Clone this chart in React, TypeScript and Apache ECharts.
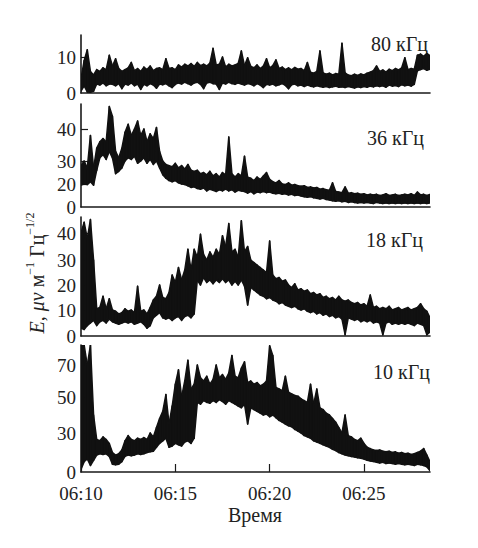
import React, { useEffect, useRef } from "react";
import * as echarts from "echarts";

// time step between samples: 10 s, expressed in minutes after 06:10
const STEP_MIN = 1 / 6;
const X_MAX_MIN = 18.5;

// envelope (max / min within each 10 s sample)
const hi80 = [4,9,12,6,5,6.5,6,7,6.5,10.5, 7.5,9.5,6.8,6,6.5,7,8.5,6.2,6.8,6, 7.2,6.5,7.5,6.2,6.8,7,6.5,9.5,6.8,7, 6.5,7.8,7.2,8,7.5,8.2,7.4,8.5,7.6,8, 7.5,8.3,12.4,7.8,8,10,7.2,8,7.5,7.8, 8.2,11.7,7.6,9.8,7.4,7,7.8,6.8,7.5,9.5, 7,7.6,9.2,6.8,7.2,6.5,7,6.4,7.1,6.6, 6.8,6.2,8.5,5.8,5.5,6,11.7,5.6,5.2,5.5, 5,5.4,5.2,13.8,5.6,5,4.8,5.2,4.9,5.3, 5,5.5,5.8,6.2,7.5,6,6.4,5.8,6.6,6.2, 6.8,6.4,7,9.8,6.5,6.8,6.6,10.5,10.8,10.2, 11,10.4];
const lo80 = [0.5,2,0.3,0.2,0.5,2.5,2.2,2.8,2,2.5, 2.4,2,2.6,1.2,2.5,2.2,2.8,2,2.5,1, 2.4,2,2.6,2.2,1.3,2.5,2.3,2.6,2,1.5, 2.4,2.8,2.5,3,2.6,2.2,2.8,3,2.4,1.2, 2.8,3,2.6,2.5,1,2.8,2.5,3,2.6,2.4, 2.8,2.5,2.2,2.6,2.4,2,2.6,2.2,1.5,2.4, 2.2,2.5,2,2.3,2.6,2.1,1.2,2.3,2.5,2, 2.2,1.8,2.2,1.9,1.7,2,1.8,1.6,1.8,1.5, 1.7,1.9,1.6,1.7,1.5,1.8,1.6,1.4,1.7,1.5, 1.8,1.6,1.9,1.7,2,1.8,2,1.6,2.2,1.9, 2.1,1.8,2.3,2,2.2,1.9,2.4,6.2,6.5,6.8, 6.3,6.6];

const hi36 = [28,30,27,38,27,34,36,37,36,47, 44,33,31,34,39,41.5,38,40,42.5,38, 40,36,38.5,37,40.5,33,30,28.5,28,27.5, 29,27,28,26.5,28.5,26,25.5,26,24.5,25, 24,25.5,23.5,24.5,23,25,24,37.5,24.5,23, 24.5,23.5,31.5,23,22.5,21.5,23,22,23.5,25, 22,21,20.5,21.5,20,19.5,20.5,19,19.5,18.5, 18,18.5,17,17.5,16.5,17,15.5,16,15,14.5, 20.5,13.5,13,12.5,17.5,12,12.5,11.5,12,11, 11.5,10.5,11,10.5,11,10,10.5,11.5,10,10.5, 11,10,10.5,11,10.5,11.5,10,13,10.5,11, 10,11];
const lo36 = [19,20,19.5,21,19,26,31,32,30.5,33, 31,24.5,25.5,27,30,31,30.5,31.5,29,30, 31,29,30.5,28.5,30,27,24,22.5,21.5,21, 21.5,20.5,20,19.5,18.5,17,17.5,16,15.5,16.5, 14,15.5,14.5,13.5,15,14,15.5,14,15,13, 14.5,14,13.5,12,13.5,11.5,13,12.5,13.5,12.5, 13,12,11.5,12,11,11.5,10.5,11,10,10.5, 9.5,9,8.5,9,8,7.5,7,7.5,6.5,6, 5.5,5,5.5,4.5,5,4,4.5,4,3.5,4, 3.5,4,3.5,3,4,3.5,3,3.5,3,3.5, 3,3.5,3,3.5,3,3.5,3,3.5,3,3.5, 3,3.5];

const hi18 = [40,44,38,45,30,10.5,11,15.5,10.5,14.5, 10,9.5,8.5,9,10.5,9.5,10,9,19.5,9.5, 10,8.5,11,14,15.5,20,15,14.5,17,24, 21,27,22,26,34,26,34,31,39.5,32, 30,33,31,34,32,39,35,43.5,33,34, 31,44.5,33,35,30,29,28,27,26,25, 37,24,22.5,23,21.5,22,20,19,20.5,18, 18.5,17.5,18,16.5,17,16,16.5,15,15.5,14.5, 15,14,15.5,14,13.5,14,13,12.5,13,12, 12.5,11.5,16,11,11.5,10.5,11,10.5,11.5,10, 10.5,11,10,10.5,11,10,10.5,11,12.5,10.5, 9.5,7];
const lo18 = [3,2.5,4,5,6,4,5.5,6,5,6.5, 5.5,5,4.5,5,5.5,5,5.5,4.5,5,5.5, 4.5,3,4,7,8,9,7,6.5,7,6, 7,7.5,6,7.5,8,7,8.5,22,20,23, 21,22,20.5,22,21,22.5,21,22,20,21.5, 20,22,19.5,12,19,18,17,16,15.5,14.5, 15,14,13.5,12.5,13,12,11.5,11,11.5,10.5, 10,10.5,9.5,9,9.5,8.5,9,8,8.5,7.5, 8,7,7.5,6.5,0.5,7,6.5,6,6.5,5.5, 6,5.5,6,5,5.5,5,0.5,5,5.5,4.5, 5,4.5,5,4.5,5,4.5,4,5,4.5,4, 0.5,1.5];

const hi10 = [90,90,70,90,40,25,24,27,25,22, 15,13,14,17,24,28,25,24,26,25, 26.5,25,30,27,33,38,42,51.5,35,45, 58,67,50,60,73,55,58,70,62,60, 63,58,61,70,62,64,61,65,76,63, 62,68,72,59,60,58,59,57,58,60, 82,76,56,55,54,63,53,52,51,50.5, 49,48,47,58,46,55,44,43,41,40, 38,36,33,30,40,28,27,25,24,26, 22,19,18,17,16.5,17,16,15.5,16,15, 15.5,14.5,15,14,14.5,13.5,14,15,16,18, 13,8];
const lo10 = [2,8,10,5,9,13,14,13.5,14,12, 6,5.5,6,8,12,13,12.5,13,14,13.5, 14,15,15.5,16,19,22,24,26,19,20, 22,21,20,23,24,22,26,47,46,48, 47,46.5,48,47,48.5,47.5,46,48,47,46, 45,44,46,35,44,43,42,41,40,40.5, 39,40,38.5,37,36,35,34,33.5,32,31, 30,28,27,26,24,23,22,21,20,19, 17.5,16.5,15,14,13,12.5,12,11.5,11,10.5, 10,9,8.5,8,7.5,7,7.5,6.5,7,6.5, 6,6.5,6,5.5,6,5.5,5,6,5.5,5, 4,1];

const panelLabels = ["80 кГц", "36 кГц", "18 кГц", "10 кГц"];
const yTickValues = [
  [0, 5, 10],
  [0, 20, 30, 40],
  [0, 10, 20, 30, 40],
  [0, 30, 50, 70],
];
const xTickMinutes = [0, 5, 10, 15];
const xTickLabels = ["06:10", "06:15", "06:20", "06:25"];
const xAxisTitle = "Время";

// ---- layout / scale configuration (not data) ----
const FONT = '"Liberation Serif", "DejaVu Serif", "Times New Roman", serif';
const GRID_LEFT = 81;
const GRID_RIGHT = 48;
const GRIDS = [
  { top: 35, height: 58 },
  { top: 104, height: 103 },
  { top: 217, height: 119 },
  { top: 345, height: 127 },
];
// printed (non-uniform) axis scales of the original figure: value -> height in px
const SCALES: number[][][] = [
  [[0, 0], [5, 18], [10, 36]],
  [[0, 0], [20, 23], [30, 46], [40, 78]],
  [[0, 0], [10, 26], [20, 51], [30, 76], [40, 103]],
  [[0, 0], [30, 39], [50, 75], [70, 107]],
];
const LABEL_POS = [
  { x: 428, y: 44 },
  { x: 424, y: 138 },
  { x: 423, y: 240 },
  { x: 430, y: 372 },
];
const INK = "#111";

function warp(v: number, table: number[][]): number {
  for (let k = 1; k < table.length; k++) {
    if (v <= table[k][0] || k === table.length - 1) {
      const [v0, p0] = table[k - 1];
      const [v1, p1] = table[k];
      return p0 + ((v - v0) * (p1 - p0)) / (v1 - v0);
    }
  }
  return v;
}

const SERIES = [
  [hi80, lo80],
  [hi36, lo36],
  [hi18, lo18],
  [hi10, lo10],
];

export default function App() {
  const ref = useRef<HTMLDivElement | null>(null);

  useEffect(() => {
    if (!ref.current) return;
    const chart = echarts.init(ref.current, null, { renderer: "svg" });

    const grid = GRIDS.map((g) => ({
      left: GRID_LEFT,
      right: GRID_RIGHT,
      top: g.top,
      height: g.height,
      containLabel: false,
    }));

    const axisLineStyle = { color: "#1a1a1a", width: 1.6 };

    const xAxis = GRIDS.map((_, k) => ({
      gridIndex: k,
      type: "value",
      min: 0,
      max: X_MAX_MIN,
      axisLine: { show: true, onZero: false, lineStyle: axisLineStyle },
      axisTick: {
        show: k === 3,
        inside: true,
        length: 8,
        customValues: xTickMinutes,
        lineStyle: { color: "#1a1a1a", width: 1.2 },
      },
      axisLabel: {
        show: k === 3,
        customValues: xTickMinutes,
        showMinLabel: true,
        showMaxLabel: true,
        formatter: (v: number) => {
          const idx = xTickMinutes.findIndex((t) => Math.abs(t - v) < 1e-6);
          return idx >= 0 ? xTickLabels[idx] : "";
        },
        fontFamily: FONT,
        fontSize: 19,
        color: "#222",
        margin: 12,
      },
      splitLine: { show: false },
    }));

    const yAxis = GRIDS.map((g, k) => {
      const ticks = yTickValues[k];
      const pos = ticks.map((t) => warp(t, SCALES[k]));
      return {
        gridIndex: k,
        type: "value",
        min: 0,
        max: g.height,
        axisLine: { show: true, onZero: false, lineStyle: axisLineStyle },
        axisTick: {
          show: true,
          inside: true,
          length: 7,
          customValues: pos.filter((p) => p > 0),
          lineStyle: { color: "#1a1a1a", width: 1.2 },
        },
        axisLabel: {
          show: true,
          customValues: pos,
          showMinLabel: true,
          showMaxLabel: true,
          formatter: (v: number) => {
            const idx = pos.findIndex((p) => Math.abs(p - v) < 1e-6);
            return idx >= 0 ? String(ticks[idx]) : "";
          },
          fontFamily: FONT,
          fontSize: 19,
          lineHeight: 14,
          color: "#222",
          margin: 5,
        },
        splitLine: { show: false },
      };
    });

    const series: any[] = SERIES.map(([hi, lo], k) => {
      const top = GRIDS[k].height;
      const rows = hi.map((h, i) => [
        i * STEP_MIN,
        Math.min(warp(h, SCALES[k]), top),
        Math.min(warp(lo[i], SCALES[k]), top),
      ]);
      return {
        type: "custom",
        xAxisIndex: k,
        yAxisIndex: k,
        data: rows,
        encode: { x: 0, y: [1, 2] },
        silent: true,
        clip: true,
        renderItem: (params: any, api: any) => {
          const i = params.dataIndex;
          if (i >= rows.length - 1) return null;
          const a = rows[i];
          const b = rows[i + 1];
          const p1 = api.coord([a[0], a[1]]);
          const p2 = api.coord([b[0], b[1]]);
          const p3 = api.coord([b[0], b[2]]);
          const p4 = api.coord([a[0], a[2]]);
          return {
            type: "polygon",
            shape: { points: [p1, p2, p3, p4] },
            style: { fill: INK, stroke: INK, lineWidth: 1.5, lineJoin: "round" },
          };
        },
      };
    });

    const graphic: any[] = panelLabels.map((t, k) => ({
      type: "text",
      x: LABEL_POS[k].x,
      y: LABEL_POS[k].y,
      style: {
        text: t,
        fontFamily: FONT,
        fontSize: 20,
        fill: "#222",
        align: "right",
        verticalAlign: "middle",
      },
    }));

    graphic.push({
      type: "text",
      x: 255,
      y: 515,
      style: {
        text: xAxisTitle,
        fontFamily: FONT,
        fontSize: 20,
        fill: "#222",
        align: "center",
        verticalAlign: "middle",
      },
    });

    graphic.push({
      type: "text",
      x: 37,
      y: 273,
      rotation: Math.PI / 2,
      style: {
        text: "{i|E}{n|, }{i|μν}{n| м}{s|−1}{n| Гц}{s|−1/2}",
        align: "center",
        verticalAlign: "middle",
        fontFamily: FONT,
        fontSize: 20,
        fill: "#222",
        rich: {
          i: { fontFamily: FONT, fontStyle: "italic", fontSize: 20, lineHeight: 26, fill: "#222" },
          n: { fontFamily: FONT, fontSize: 20, lineHeight: 26, fill: "#222" },
          s: { fontFamily: FONT, fontSize: 12, lineHeight: 12, fill: "#222", verticalAlign: "top" },
        },
      },
    });

    chart.setOption({
      animation: false,
      backgroundColor: "#ffffff",
      grid,
      xAxis,
      yAxis,
      series,
      graphic,
    } as any);

    return () => {
      chart.dispose();
    };
  }, []);

  return (
    <div
      ref={ref}
      style={{ position: "absolute", left: 0, top: 0, width: 478, height: 548, background: "#fff" }}
    />
  );
}
